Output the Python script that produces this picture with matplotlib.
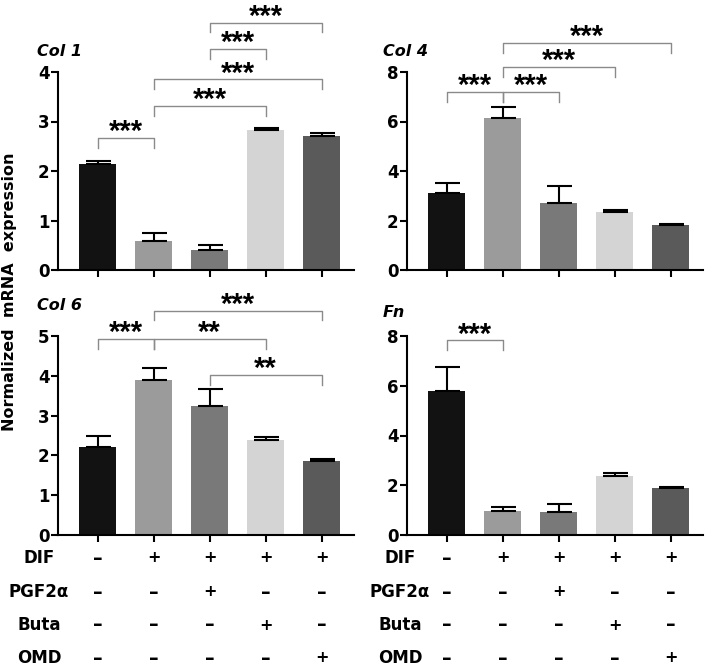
import matplotlib
matplotlib.use('Agg')
import matplotlib.pyplot as plt
from matplotlib import transforms

plt.rcParams['font.family'] = ['DejaVu Sans']
plt.rcParams['font.weight'] = 'bold'

# values
groups = ['Control', 'DIF', 'DIF+PGF2α', 'DIF+Buta', 'DIF+OMD']
bar_colors = ['#121212', '#9b9b9b', '#797979', '#d4d4d4', '#5a5a5a']

col1_mean = [2.15, 0.59, 0.40, 2.82, 2.70]
col1_err = [0.06, 0.16, 0.10, 0.05, 0.07]
col4_mean = [3.12, 6.13, 2.69, 2.35, 1.80]
col4_err = [0.40, 0.46, 0.70, 0.09, 0.07]
col6_mean = [2.22, 3.90, 3.24, 2.38, 1.86]
col6_err = [0.27, 0.30, 0.42, 0.09, 0.05]
fn_mean = [5.77, 0.97, 0.94, 2.38, 1.87]
fn_err = [0.99, 0.17, 0.30, 0.11, 0.05]

# comparisons: (bar a, bar b, label)
col1_sig = [(0, 1, '***'), (1, 3, '***'), (1, 4, '***'), (2, 3, '***'), (2, 4, '***')]
col4_sig = [(0, 1, '***'), (1, 2, '***'), (1, 3, '***'), (1, 4, '***')]
col6_sig = [(0, 1, '***'), (1, 3, '**'), (1, 4, '***'), (2, 4, '**')]
fn_sig = [(0, 1, '***')]

treatments = ['DIF', 'PGF2α', 'Buta', 'OMD']
treat_signs = [
    ['–', '+', '+', '+', '+'],
    ['–', '–', '+', '–', '–'],
    ['–', '–', '–', '+', '–'],
    ['–', '–', '–', '–', '+'],
]

# layout
W, H = 710, 666
fig = plt.figure(figsize=(W / 100, H / 100), dpi=100)

panels = [
    dict(title='Col 1', mean=col1_mean, err=col1_err, sig=col1_sig,
         ymax=4, step=1, brk=[2.66, 3.31, 3.85, 4.47, 5.0],
         rect=[58, 270, 198], title_xy=(37, 56)),
    dict(title='Col 4', mean=col4_mean, err=col4_err, sig=col4_sig,
         ymax=8, step=2, brk=[7.19, 7.19, 8.2, 9.17],
         rect=[407, 270, 198], title_xy=(383, 56)),
    dict(title='Col 6', mean=col6_mean, err=col6_err, sig=col6_sig,
         ymax=5, step=1, brk=[4.93, 4.93, 5.64, 4.03],
         rect=[58, 535, 199], title_xy=(37, 310)),
    dict(title='Fn', mean=fn_mean, err=fn_err, sig=fn_sig,
         ymax=8, step=2, brk=[7.82],
         rect=[407, 535, 199], title_xy=(383, 317)),
]

axes = []
for p in panels:
    left, bottom, height = p['rect']
    ax = fig.add_axes([left / W, (H - bottom) / H, 296 / W, height / H])
    axes.append(ax)
    x = list(range(len(groups)))
    ax.bar(x, p['mean'], width=0.67, color=bar_colors, zorder=2)
    ax.errorbar(x, p['mean'], yerr=[[0] * 5, p['err']], fmt='none',
                ecolor='black', elinewidth=1.5, capsize=9, capthick=1.5,
                zorder=3)
    ax.set_xlim(-0.71, 4.58)
    ax.set_ylim(0, p['ymax'])
    ax.set_yticks(range(0, p['ymax'] + 1, p['step']))
    ax.set_xticks(x)
    ax.set_xticklabels([])
    for s in ['top', 'right']:
        ax.spines[s].set_visible(False)
    for s in ['left', 'bottom']:
        ax.spines[s].set_linewidth(1.5)
    ax.tick_params(axis='both', direction='out', length=5, width=1.5,
                   labelsize=12, pad=1)

    # significance brackets
    yr = p['ymax']
    leg = yr * 0.05
    star_tr = transforms.offset_copy(ax.transData, fig=fig, y=-1.5, units='points')
    for (a, b, lab), yb in zip(p['sig'], p['brk']):
        ax.plot([a, a, b, b], [yb - leg, yb, yb, yb - leg], color='#8a8a8a',
                lw=1.0, clip_on=False, zorder=4)
        ax.text((a + b) / 2, yb, lab, ha='center', va='baseline',
                fontsize=21, fontweight='bold', family='Liberation Sans',
                transform=star_tr, clip_on=False)

    tx, ty = p['title_xy']
    fig.text(tx / W, (H - ty) / H, p['title'], fontsize=11.5,
             fontweight='bold', fontstyle='italic', va='baseline', ha='left')

fig.text(10 / W, (H - 292) / H, 'Normalized  mRNA  expression',
         rotation=90, ha='center', va='center', fontsize=11.5, fontweight='bold')

# treatment table under the bottom panels
row_y = [558, 592, 625, 658]
for ax, lab_x in zip(axes[2:], [39, 400]):
    tr = transforms.blended_transform_factory(ax.transData, fig.transFigure)
    for name, signs, ry in zip(treatments, treat_signs, row_y):
        fig.text(lab_x / W, (H - ry) / H, name, ha='center', va='center',
                 fontsize=12, fontweight='bold')
        for i, sgn in enumerate(signs):
            ax.text(i, (H - ry) / H, sgn, transform=tr, ha='center',
                    va='center', fontsize=14 if sgn == '–' else 11.5,
                    fontweight='bold')

fig.savefig('out.png', dpi=100)
